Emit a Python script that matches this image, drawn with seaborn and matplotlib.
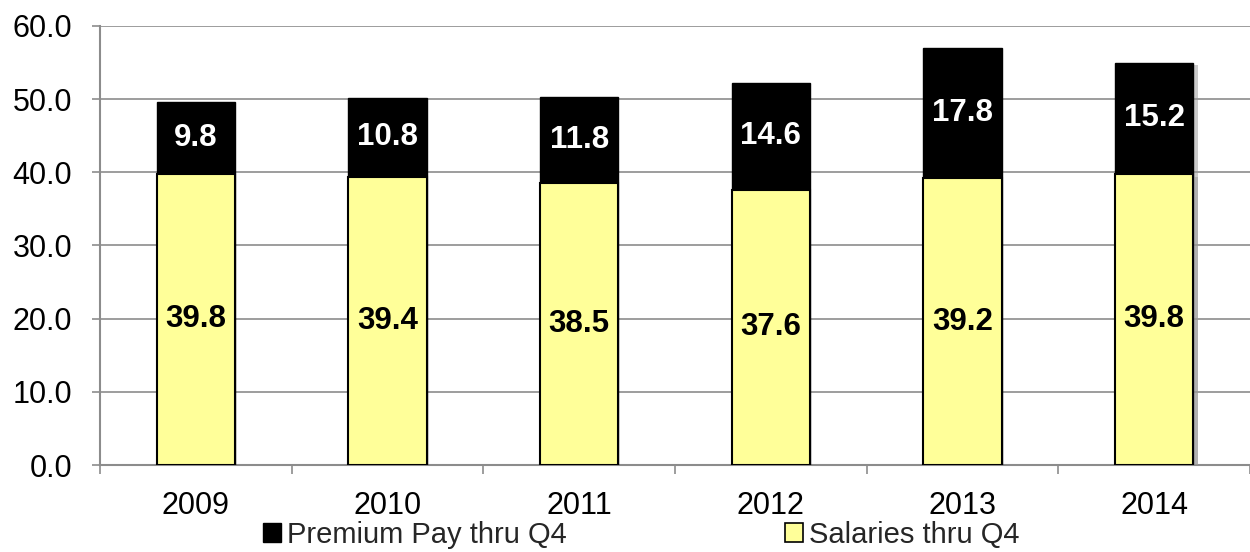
import matplotlib
matplotlib.use("Agg")
import matplotlib.pyplot as plt
import seaborn as sns
import pandas as pd
from matplotlib.patches import Patch
import matplotlib.patheffects as pe

years = ["2009", "2010", "2011", "2012", "2013", "2014"]
salaries = [39.8, 39.4, 38.5, 37.6, 39.2, 39.8]
premium = [9.8, 10.8, 11.8, 14.6, 17.8, 15.2]
yticks = [0, 10, 20, 30, 40, 50, 60]

df = pd.DataFrame({"year": years, "salaries": salaries, "premium": premium})
df["total"] = df["salaries"] + df["premium"]

sns.set_theme(style="white")
plt.rcParams["font.family"] = ["Liberation Sans", "DejaVu Sans"]

fig = plt.figure(figsize=(12.5, 5.52), dpi=100)
ax = fig.add_axes([0.08, 0.1576, 0.92, 0.7954])

yellow = "#FFFF99"
grid_c = "#8C8C8C"

sns.barplot(data=df, x="year", y="total", color="black", width=0.41,
            edgecolor="black", linewidth=1.0, saturation=1, ax=ax, zorder=3)
sns.barplot(data=df, x="year", y="salaries", color=yellow, width=0.41,
            edgecolor="black", linewidth=1.5, saturation=1, ax=ax, zorder=4)

# shadow on last bar (as in reference)
tot_patches = ax.containers[0].patches
sal_patches = ax.containers[1].patches
for p in (tot_patches[-1], sal_patches[-1]):
    p.set_path_effects([pe.SimplePatchShadow(offset=(3, -2), shadow_rgbFace="#999999", alpha=0.5), pe.Normal()])

for i, (s, pr) in enumerate(zip(salaries, premium)):
    ax.text(i, s / 2, f"{s:.1f}", ha="center", va="center", fontsize=22.5,
            fontweight="bold", color="black", zorder=6)
    ax.text(i, s + pr / 2, f"{pr:.1f}", ha="center", va="center", fontsize=22.5,
            fontweight="bold", color="white", zorder=6)

ax.set_xlim(-0.5, len(years) - 0.5)
ax.set_ylim(0, 60)
ax.set_yticks(yticks)
ax.set_yticklabels([f"{v:.1f}" for v in yticks])
ax.set_xlabel("")
ax.set_ylabel("")

ax.yaxis.grid(True, color=grid_c, linewidth=1.2, zorder=0)
ax.xaxis.grid(False)
ax.set_axisbelow(True)

for side in ["top", "right"]:
    ax.spines[side].set_visible(False)
for side in ["left", "bottom"]:
    ax.spines[side].set_color(grid_c)
    ax.spines[side].set_linewidth(1.5)

ax.tick_params(axis="y", which="major", left=True, length=6, width=1.2,
               color=grid_c, labelsize=22, pad=14, labelcolor="black")
ax.tick_params(axis="x", which="major", bottom=False, labelsize=22, pad=13,
               labelcolor="black")
ax.set_xticks([i - 0.5 for i in range(len(years) + 1)], minor=True)
ax.tick_params(axis="x", which="minor", bottom=True, length=6.5, width=1.2,
               color=grid_c, direction="out")

handles = [Patch(facecolor="black", edgecolor="black", label="Premium Pay thru Q4"),
           Patch(facecolor=yellow, edgecolor="black", linewidth=1.2, label="Salaries thru Q4")]
fig.legend(handles=handles, loc="center", bbox_to_anchor=(0.513, 0.031), ncol=2,
           frameon=False, fontsize=21, handlelength=0.6, handleheight=0.6,
           handletextpad=0.2, columnspacing=7.5, borderpad=0)

fig.savefig("out.png", dpi=100)
